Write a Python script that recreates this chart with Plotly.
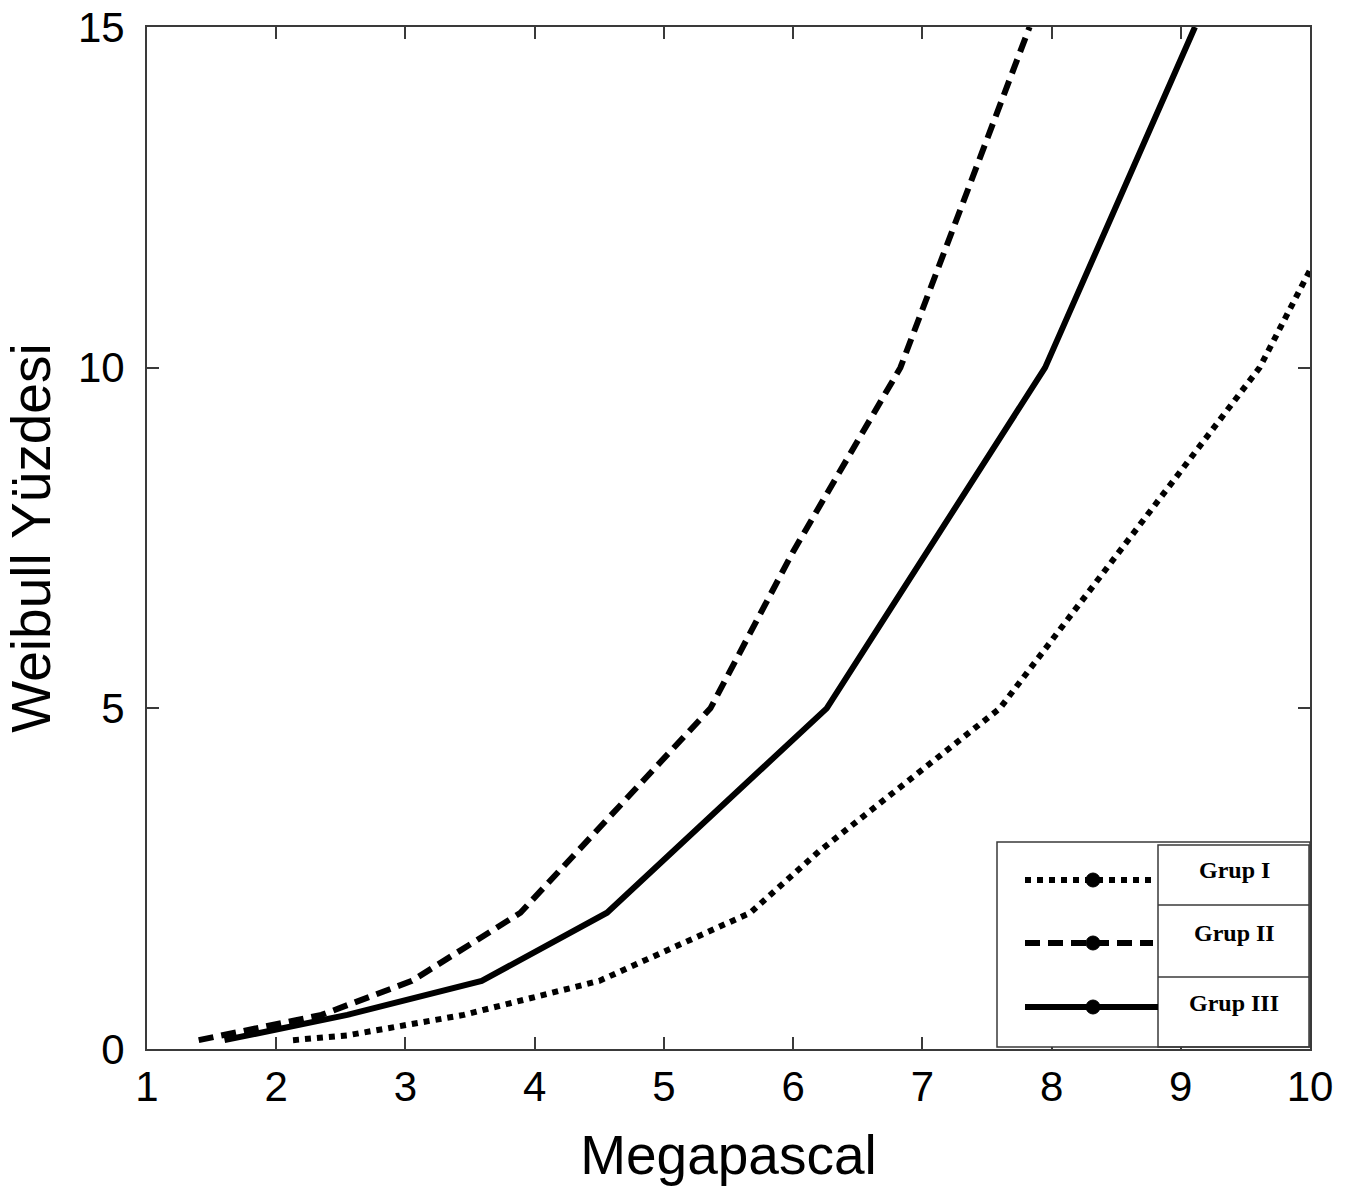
import plotly.graph_objects as go

# ---- data ----
grup1_x = [2.13, 2.55, 3.45, 4.50, 5.67, 6.20, 7.60, 9.61, 10.00]
grup1_y = [0.13, 0.20, 0.50, 1.00, 2.00, 2.90, 5.00, 10.00, 11.43]

grup2_x = [1.40, 2.35, 3.05, 3.89, 5.36, 6.00, 6.83, 7.83]
grup2_y = [0.13, 0.50, 1.00, 2.00, 5.00, 7.30, 10.00, 15.00]

grup3_x = [1.60, 2.55, 3.59, 4.56, 6.26, 7.95, 9.11]
grup3_y = [0.13, 0.50, 1.00, 2.00, 5.00, 10.00, 15.00]

series_names = ["Grup I", "Grup II", "Grup III"]
x_ticks = [1, 2, 3, 4, 5, 6, 7, 8, 9, 10]
y_ticks = [0, 5, 10, 15]

# ---- layout geometry ----
W, H = 1371, 1189
L, R, T, B = 147, 1310, 27, 1049


def px(xp):
    return (xp - L) / (R - L)


def py(yp):
    return (B - yp) / (B - T)


dash_styles = ["6px,6px", "15px,8px", "solid"]
lw = 6

fig = go.Figure()
for xs, ys, name, d in zip([grup1_x, grup2_x, grup3_x],
                           [grup1_y, grup2_y, grup3_y],
                           series_names, dash_styles):
    fig.add_trace(go.Scatter(x=xs, y=ys, mode="lines", name=name,
                             line=dict(color="black", width=lw, dash=d),
                             showlegend=False))

axis_common = dict(showgrid=False, zeroline=False, showline=True, mirror="allticks",
                   linecolor="#3a3a3a", linewidth=2, ticks="inside", ticklen=12,
                   tickwidth=1.5, tickcolor="#3a3a3a", automargin=False,
                   tickfont=dict(family="Liberation Sans, Arial", size=42, color="black"))

fig.update_layout(
    width=W, height=H,
    margin=dict(l=L, r=W - R, t=T, b=H - B, autoexpand=False),
    paper_bgcolor="white", plot_bgcolor="white",
    xaxis=dict(range=[1, 10], tickvals=x_ticks, **axis_common,
               title=dict(text="Megapascal", standoff=26,
                          font=dict(family="Liberation Sans, Arial", size=55, color="black"))),
    yaxis=dict(range=[0, 15], tickvals=y_ticks, ticklabelstandoff=12, **axis_common,
               title=dict(text="Weibull Yüzdesi", standoff=30,
                          font=dict(family="Liberation Sans, Arial", size=55, color="black"))),
)

# ---- custom legend box (as in the reference) ----
shapes = []
box_col = "#3a3a3a"
shapes.append(dict(type="rect", xref="paper", yref="paper",
                   x0=px(997), x1=px(1310), y0=py(1047), y1=py(842),
                   line=dict(color=box_col, width=1.5), fillcolor="white", layer="above"))
shapes.append(dict(type="rect", xref="paper", yref="paper",
                   x0=px(1158), x1=px(1309), y0=py(1047), y1=py(845),
                   line=dict(color=box_col, width=1.5), layer="above"))
for yy in [905, 977]:
    shapes.append(dict(type="line", xref="paper", yref="paper",
                       x0=px(1158), x1=px(1309), y0=py(yy), y1=py(yy),
                       line=dict(color=box_col, width=1.5), layer="above"))

sample_y = [880, 943, 1007]
text_y = [870, 933, 1003]
for i, (name, d) in enumerate(zip(series_names, dash_styles)):
    x_end = 1153 if i < 2 else 1158
    shapes.append(dict(type="line", xref="paper", yref="paper",
                       x0=px(1025), x1=px(x_end), y0=py(sample_y[i]), y1=py(sample_y[i]),
                       line=dict(color="black", width=lw, dash=d), layer="above"))
    shapes.append(dict(type="circle", xref="paper", yref="paper",
                       x0=px(1086), x1=px(1100), y0=py(sample_y[i] + 7), y1=py(sample_y[i] - 7),
                       line=dict(color="black", width=1), fillcolor="black", layer="above"))
fig.update_layout(shapes=shapes)

annotations = []
for i, name in enumerate(series_names):
    annotations.append(dict(xref="paper", yref="paper", x=px(1234), y=py(text_y[i]),
                            text="<b>%s</b>" % name, showarrow=False,
                            xanchor="center", yanchor="middle",
                            font=dict(family="Liberation Serif, Times New Roman", size=24,
                                      color="black")))
fig.update_layout(annotations=annotations)

fig.write_html("out.html", config={"displayModeBar": False},
               post_script="document.body.style.margin='0';")
